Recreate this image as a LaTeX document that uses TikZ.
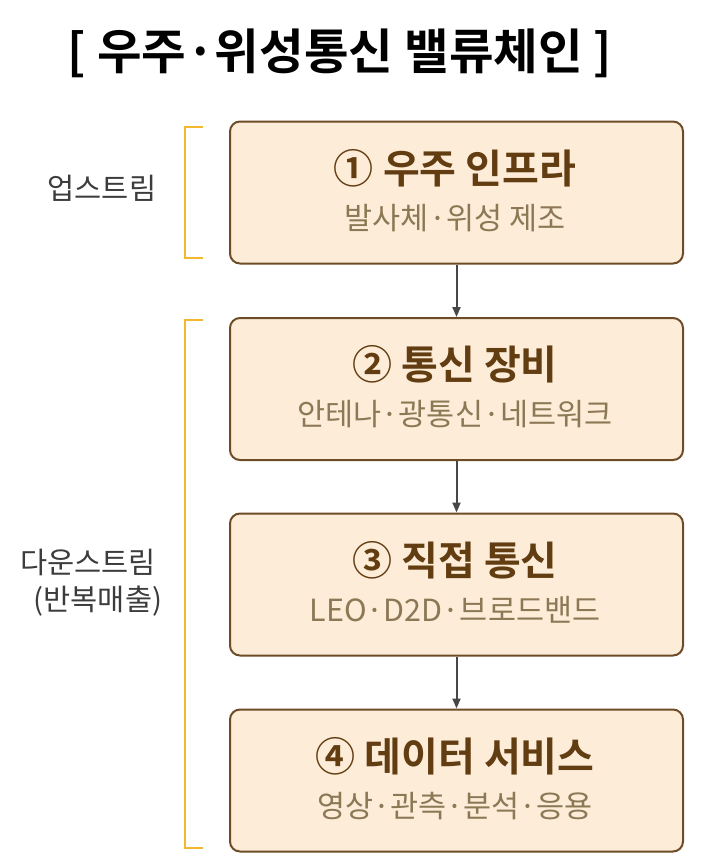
\documentclass[tikz,border=0pt]{standalone}
\usepackage{fontspec}
\setmainfont{Noto Sans CJK KR}[BoldFont={Noto Sans CJK KR Bold}]
\usetikzlibrary{arrows.meta}
\definecolor{boxfill}{HTML}{FCECD8}
\definecolor{boxline}{HTML}{6E4C28}
\definecolor{titlec}{HTML}{633D12}
\definecolor{subc}{HTML}{8C7855}
\definecolor{labelc}{HTML}{3C3C3C}
\definecolor{brackc}{HTML}{F4B730}
\definecolor{arrowc}{HTML}{474747}
\tikzset{
  box/.style={draw=boxline, line width=2pt, fill=boxfill, rounded corners=10pt,
    minimum width=453pt, minimum height=142pt, inner sep=0pt},
  boxtitle/.style={text=titlec, font=\fontsize{40}{44}\selectfont\bfseries, inner sep=0pt, anchor=center},
  boxsub/.style={text=subc, font=\fontsize{30.5}{34}\selectfont, inner sep=0pt, anchor=center},
  sidelabel/.style={text=labelc, font=\fontsize{29.5}{33}\selectfont, inner sep=0pt, anchor=center},
  brack/.style={draw=brackc, line width=2.5pt},
  flow/.style={draw=arrowc, line width=2pt, -{Triangle[length=10pt,width=8pt]}},
}
\begin{document}
\begin{tikzpicture}[x=1pt,y=-1pt]
\useasboundingbox (0,0) rectangle (708,868);
\node[text=black, font=\fontsize{48.5}{54}\selectfont\bfseries, inner sep=0pt] (title) at (340,53) {[ 우주·위성통신 밸류체인 ]};

\node[box] (b1) at (456.5,192.5) {};
\node[box] (b2) at (456.5,389) {};
\node[box] (b3) at (456.5,584.5) {};
\node[box] (b4) at (456.5,780.5) {};

\node[boxtitle] (t1) at (455,168) {① 우주 인프라};
\node[boxsub] (s1) at (455,218) {발사체·위성 제조};
\node[boxtitle] (t2) at (455,364) {② 통신 장비};
\node[boxsub] (s2) at (455,414) {안테나·광통신·네트워크};
\node[boxtitle] (t3) at (455,560) {③ 직접 통신};
\node[boxsub] (s3) at (455,610) {LEO·D2D·브로드밴드};
\node[boxtitle] (t4) at (455,756) {④ 데이터 서비스};
\node[boxsub] (s4) at (455,806) {영상·관측·분석·응용};

\draw[flow] (b1.south) -- (b2.north);
\draw[flow] (b2.south) -- (b3.north);
\draw[flow] (b3.south) -- (b4.north);

\coordinate (u1) at (203,127);
\coordinate (u2) at (203,258);
\coordinate (d1) at (203,320);
\coordinate (d2) at (203,848);
\draw[brack] (u1) -- (185,127) -- (185,258) -- (u2);
\draw[brack] (d1) -- (185,320) -- (185,848) -- (d2);

\node[sidelabel] (up) at (102,188) {업스트림};
\node[sidelabel] (down) at (88,562) {다운스트림};
\node[sidelabel] (rev) at (98,601) {(반복매출)};
\end{tikzpicture}
\end{document}
